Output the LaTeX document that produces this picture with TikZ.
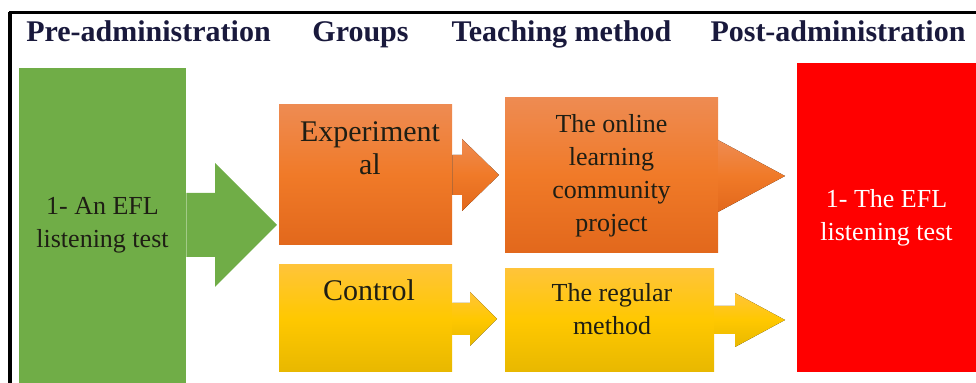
\documentclass[tikz,border=0pt]{standalone}
\usepackage{fontspec}
\setmainfont{Liberation Serif}

\definecolor{headblue}{RGB}{25,25,60}
\definecolor{ink}{RGB}{30,30,20}
\definecolor{leafgreen}{RGB}{112,173,71}
\definecolor{orangetop}{RGB}{238,139,82}
\definecolor{orangemid}{RGB}{240,122,40}
\definecolor{orangebot}{RGB}{226,104,28}
\definecolor{yellowtop}{RGB}{255,196,57}
\definecolor{yellowmid}{RGB}{255,200,0}
\definecolor{yellowbot}{RGB}{232,184,0}
\definecolor{postred}{RGB}{255,0,0}

\tikzset{
  headtext/.style={anchor=base, inner sep=0pt, text=headblue,
    font={\fontsize{15}{18}\selectfont\bfseries}},
  bodytext/.style={align=center, inner sep=0pt, text=ink,
    font={\fontsize{13}{16.5}\selectfont}},
  grouptext/.style={align=center, inner sep=0pt, text=ink,
    font={\fontsize{15}{16.5}\selectfont}},
  greenfill/.style={fill=leafgreen},
  orangefill/.style={top color=orangetop, bottom color=orangebot, middle color=orangemid},
  yellowfill/.style={top color=yellowtop, bottom color=yellowbot, middle color=yellowmid},
  panel/.style={inner sep=0pt, draw=none},
}

% block arrow: style, from node, head base x, tip x, centre y, shaft half, head half
\newcommand\blockarrow[7]{%
  \fill[#2] (#1.east |- 0,#5-#6) -- (#3,#5-#6) -- (#3,#5-#7) -- (#4,#5)
    -- (#3,#5+#7) -- (#3,#5+#6) -- (#1.east |- 0,#5+#6) -- cycle;}

\begin{document}
\begin{tikzpicture}[x=0.5pt, y=-0.5pt]
    \useasboundingbox (0,0) rectangle (976,383);

    % Frame
    \draw[black, line width=1.5pt] (9,13) -- (976,13);
    \draw[black, line width=2pt] (10,12) -- (10,383);

    % Column headings
    \node[headtext] (hpre)   at (148.5,42) {Pre-administration};
    \node[headtext] (hgroup) at (360.5,42) {Groups};
    \node[headtext] (hteach) at (561.5,42) {Teaching method};
    \node[headtext] (hpost)  at (838,42)   {Post-administration};

    % Panels
    \node[panel, greenfill, minimum width=83.5pt, minimum height=157.5pt,
          bodytext] (pre) at (102.5,225.5) {1- An EFL\\listening test};
    \node[panel, orangefill, minimum width=86.5pt, minimum height=70pt]
          (exp) at (365.5,175) {};
    \node[panel, orangefill, minimum width=106.5pt, minimum height=77.5pt,
          bodytext] (online) at (611.5,175.5)
          {The online\\learning\\community\\project};
    \node[panel, yellowfill, minimum width=86.5pt, minimum height=53.5pt]
          (ctrl) at (365.5,318.5) {};
    \node[panel, yellowfill, minimum width=104.5pt, minimum height=51.5pt]
          (reg) at (609.5,320.5) {};
    \node[panel, fill=postred, minimum width=89.5pt, minimum height=154.5pt,
          bodytext, text=white] (post) at (886.5,217.5) {1- The EFL\\listening test};

    % Panel texts that sit off centre
    \node[grouptext] (exptext)  at (370,148.5) {Experiment\\al};
    \node[grouptext] (ctrltext) at (369,290)   {Control};
    \node[bodytext]  (regtext)  at (612,309.5) {The regular\\method};

    % Block arrows
    \blockarrow{pre}{greenfill}{215}{277}{225}{32}{62}
    \blockarrow{exp}{orangefill}{462}{499}{175}{20}{36}
    \blockarrow{online}{orangefill}{718}{785}{176}{36}{36}
    \blockarrow{ctrl}{yellowfill}{470}{497}{319}{16}{27}
    \blockarrow{reg}{yellowfill}{735}{785}{320}{14}{27}
\end{tikzpicture}
\end{document}
